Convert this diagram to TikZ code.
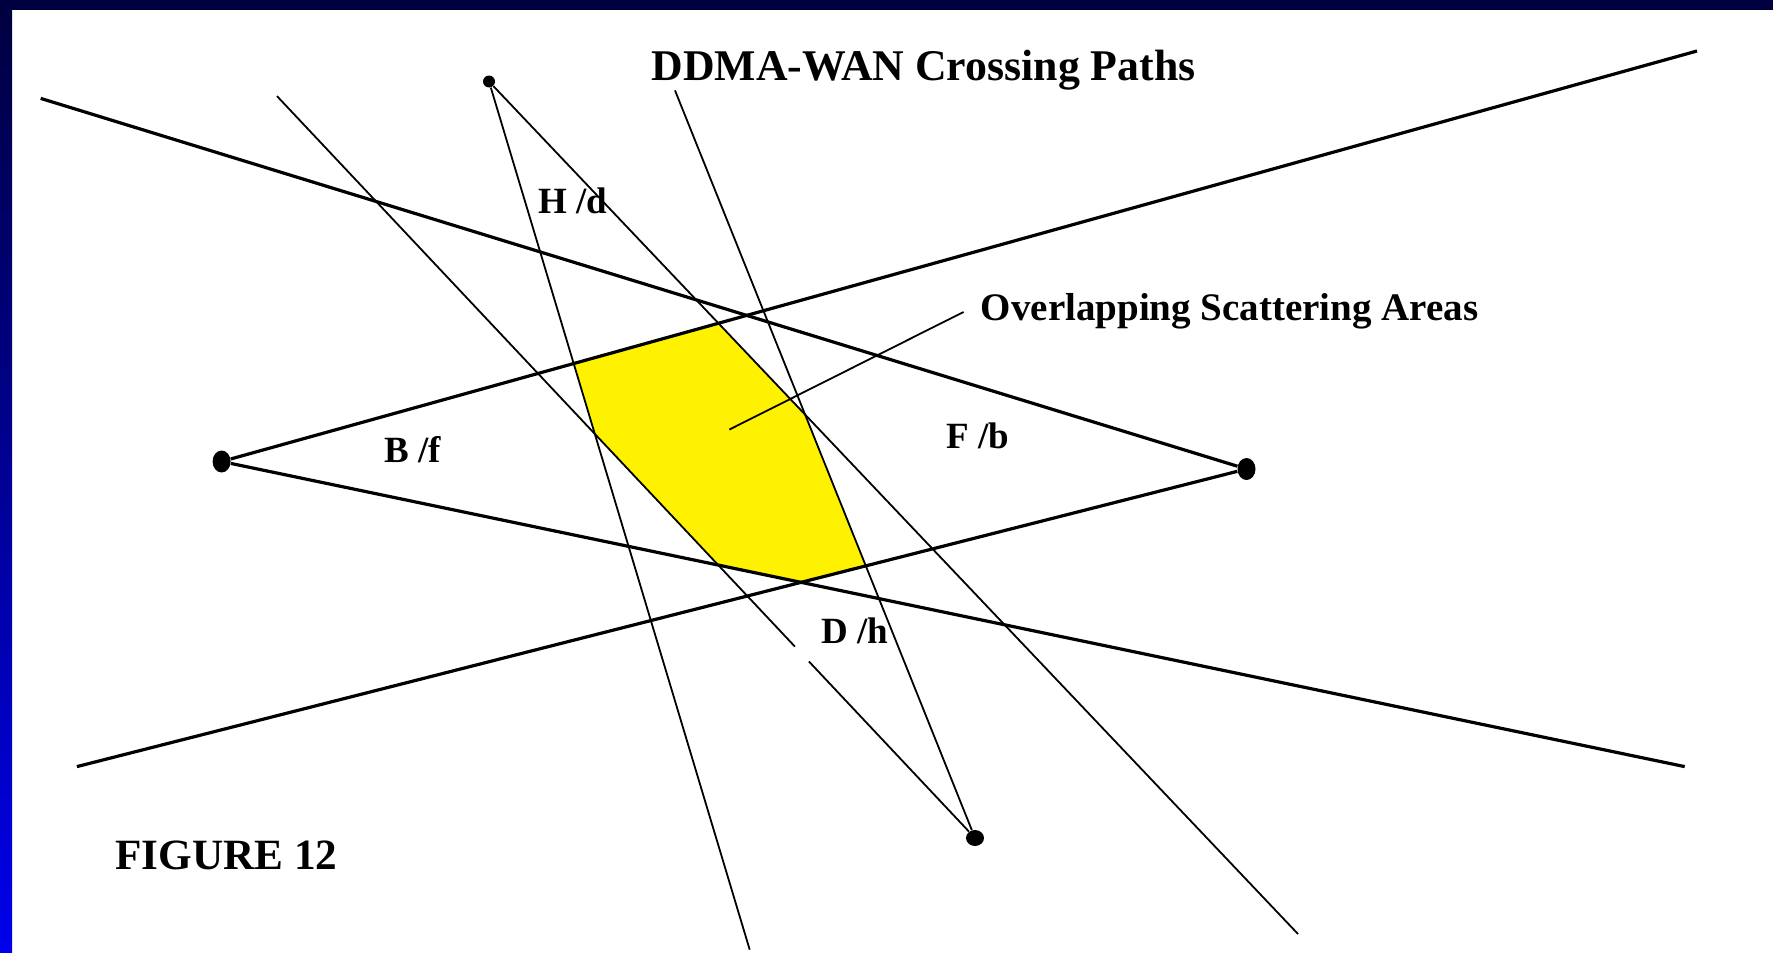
\documentclass[tikz,border=0pt]{standalone}
\usepackage{fontspec}
\setmainfont{Liberation Serif}
\usetikzlibrary{shapes.geometric,calc}
\definecolor{framenavy}{RGB}{0,0,64}
\definecolor{frameblue}{RGB}{0,0,235}

\begin{document}
\begin{tikzpicture}[%
        x=0.5pt, y=-0.5pt,
        dot/.style={ellipse, fill=black, inner sep=0pt, minimum width=9pt, minimum height=11pt},
        beam/.style={line width=1.6pt},
        ray/.style={line width=0.9pt},
        lbl/.style={anchor=base west, inner sep=0pt, font=\fontsize{18.5}{20}\selectfont\bfseries}]
        \useasboundingbox (0,0) rectangle (1773,953);
        % Frame
        \fill[white] (0,0) rectangle (1773,953);
        \fill[framenavy] (0,0) rectangle (1773,10);
        \shade[top color=framenavy, bottom color=frameblue] (0,10) rectangle (12,953);

        % Nodes
        \node [dot] (B) at (221.6,461.5) {};
        \node [dot] (F) at (1246.5,469) {};
        \node [dot, minimum width=9pt, minimum height=8pt] (D) at (975,838) {};
        \node [dot, minimum width=6pt, minimum height=6pt] (H) at (489,81.5) {};
        \coordinate (bu) at (1697,51);
        \coordinate (bl) at (1684.7,766.6);
        \coordinate (fu) at (40.7,98.4);
        \coordinate (fl) at (76.9,766.6);
        \coordinate (hl) at (749.7,949.7);
        \coordinate (hr) at (1298,934);
        \coordinate (dl) at (277,96.1);
        \coordinate (dr) at (675,90.4);
        \coordinate (gapa) at ($(dl)!0.742!(D.center)$);
        \coordinate (gapb) at ($(dl)!0.762!(D.center)$);
        \coordinate (lead) at (729.3,429.6);

        % Overlap
        \fill[yellow] (intersection of H.center--hl and B.center--bu)
            -- (intersection of B.center--bu and H.center--hr)
            -- (intersection of H.center--hr and D.center--dr)
            -- (intersection of D.center--dr and F.center--fl)
            -- (intersection of F.center--fl and B.center--bl)
            -- (intersection of B.center--bl and D.center--dl)
            -- (intersection of D.center--dl and H.center--hl)
            -- cycle;

        % Labels
        \node [lbl, font=\fontsize{21.9}{24}\selectfont\bfseries] (title) at (651,80) {DDMA-WAN Crossing Paths};
        \node [lbl, font=\fontsize{19.5}{22}\selectfont\bfseries] (areas) at (980.5,320) {Overlapping Scattering Areas};
        \node [lbl, font=\fontsize{21.6}{24}\selectfont\bfseries] (fig) at (115,869) {FIGURE 12};
        \node [lbl] (hd) at (538,213) {H /d};
        \node [lbl] (bf) at (384,462) {B /f};
        \node [lbl] (fb) at (946,448) {F /b};
        \node [lbl] (dh) at (820.7,643) {D /h};

        % Edges
        \draw[beam] (B) -- (bu);
        \draw[beam] (B) -- (bl);
        \draw[beam] (F) -- (fu);
        \draw[beam] (F) -- (fl);
        \draw[ray] (H) -- (hl);
        \draw[ray] (H) -- (hr);
        \draw[ray] (D) -- (dr);
        \draw[ray] (dl) -- (gapa);
        \draw[ray] (gapb) -- (D);
        \draw[ray] (lead) -- ([shift={(-17,-8)}]areas.base west);
\end{tikzpicture}
\end{document}
